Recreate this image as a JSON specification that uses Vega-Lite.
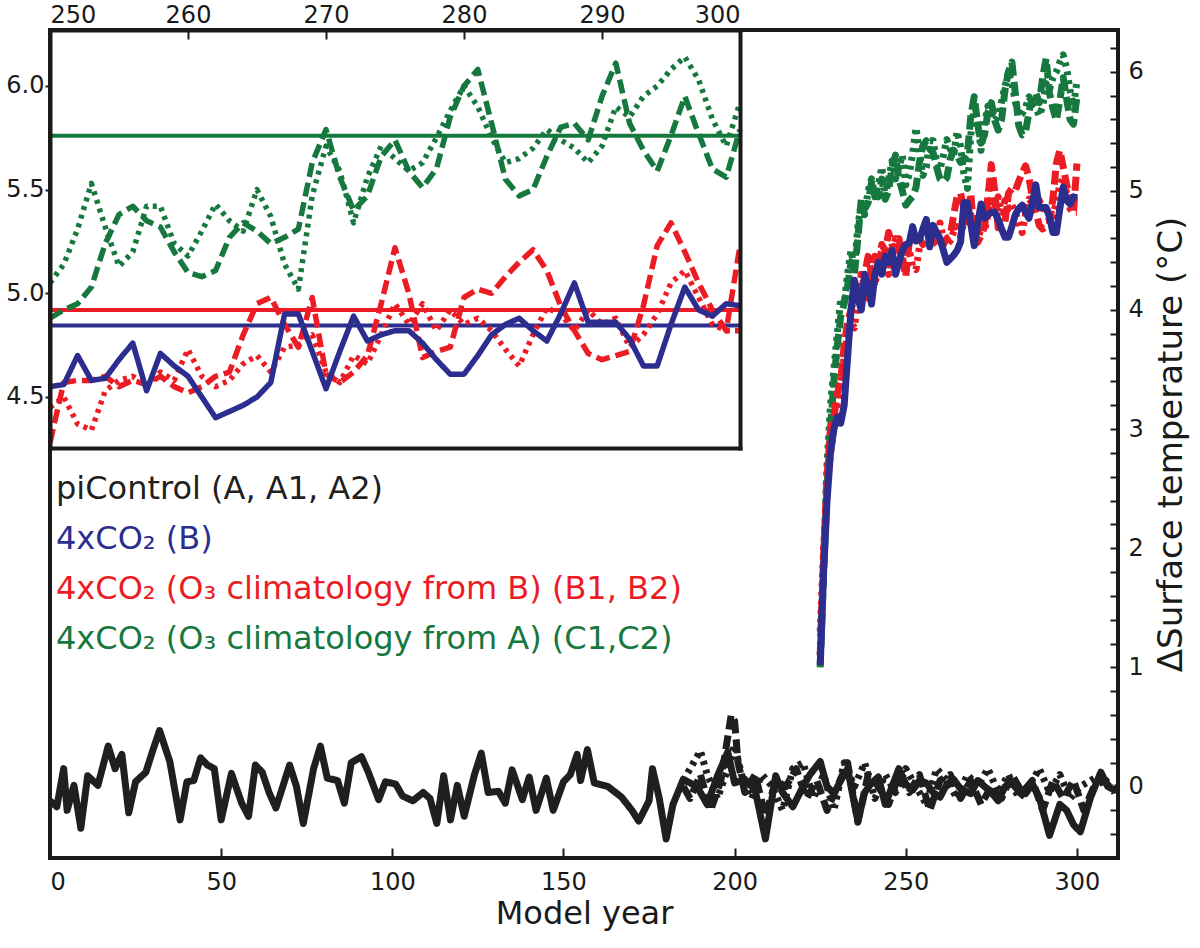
{
  "$schema": "https://vega.github.io/schema/vega-lite/v6.json",
  "width": 1068,
  "height": 828,
  "autosize": {"type": "none"},
  "padding": {"left": 50, "top": 30, "right": 82, "bottom": 90},
  "background": "white",
  "config": {
    "font": "DejaVu Sans",
    "view": {"stroke": "#1a1a1a", "strokeWidth": 4},
    "axis": {"labelFont": "DejaVu Sans", "titleFont": "DejaVu Sans", "labelColor": "#1a1a1a", "titleColor": "#1a1a1a", "tickColor": "#1a1a1a", "domainColor": "#1a1a1a", "grid": false, "titleFontWeight": "normal", "domain": false}
  },
  "datasets": {
    "runs": [
      {"run": "A", "exp": "piControl (A, A1, A2)"},
      {"run": "A1", "exp": "piControl (A, A1, A2)"},
      {"run": "A2", "exp": "piControl (A, A1, A2)"},
      {"run": "B", "exp": "4xCO₂ (B)"},
      {"run": "B1", "exp": "4xCO₂ (O₃ climatology from B) (B1, B2)"},
      {"run": "B2", "exp": "4xCO₂ (O₃ climatology from B) (B1, B2)"},
      {"run": "C1", "exp": "4xCO₂ (O₃ climatology from A) (C1,C2)"},
      {"run": "C2", "exp": "4xCO₂ (O₃ climatology from A) (C1,C2)"}
    ],
    "means": [
      {"exp": "4xCO₂ (O₃ climatology from A) (C1,C2)", "t": 5.76, "start": 250, "end": 300},
      {"exp": "4xCO₂ (O₃ climatology from B) (B1, B2)", "t": 4.92, "start": 250, "end": 300},
      {"exp": "4xCO₂ (B)", "t": 4.845, "start": 250, "end": 300}
    ],
    "series": [
      {"run":"A","year":0,"t":-0.12},{"run":"A","year":2,"t":-0.17},{"run":"A","year":4,"t":0.15},{"run":"A","year":5,"t":-0.2},{"run":"A","year":7,"t":0.01},{"run":"A","year":9,"t":-0.35},{"run":"A","year":11,"t":0.09},{"run":"A","year":14,"t":0.01},{"run":"A","year":17,"t":0.34},{"run":"A","year":19,"t":0.15},{"run":"A","year":21,"t":0.27},{"run":"A","year":23,"t":-0.22},{"run":"A","year":25,"t":0.04},{"run":"A","year":28,"t":0.12},{"run":"A","year":30,"t":0.3},{"run":"A","year":32,"t":0.47},{"run":"A","year":35,"t":0.21},{"run":"A","year":38,"t":-0.28},{"run":"A","year":40,"t":0.04},{"run":"A","year":42,"t":0.05},{"run":"A","year":44,"t":0.24},{"run":"A","year":46,"t":0.18},{"run":"A","year":48,"t":0.15},{"run":"A","year":50,"t":-0.28},{"run":"A","year":53,"t":0.11},{"run":"A","year":56,"t":-0.14},{"run":"A","year":58,"t":-0.25},{"run":"A","year":60,"t":0.18},{"run":"A","year":62,"t":0.12},{"run":"A","year":64,"t":-0.05},{"run":"A","year":66,"t":-0.18},{"run":"A","year":68,"t":0.0},{"run":"A","year":70,"t":0.18},{"run":"A","year":72,"t":0.0},{"run":"A","year":74,"t":-0.31},{"run":"A","year":77,"t":0.15},{"run":"A","year":79,"t":0.34},{"run":"A","year":81,"t":0.07},{"run":"A","year":84,"t":0.05},{"run":"A","year":86,"t":-0.14},{"run":"A","year":88,"t":0.2},{"run":"A","year":91,"t":0.25},{"run":"A","year":93,"t":0.12},{"run":"A","year":96,"t":-0.11},{"run":"A","year":98,"t":0.04},{"run":"A","year":101,"t":0.02},{"run":"A","year":103,"t":-0.08},{"run":"A","year":106,"t":-0.12},{"run":"A","year":109,"t":-0.05},{"run":"A","year":111,"t":-0.1},{"run":"A","year":113,"t":-0.31},{"run":"A","year":115,"t":0.09},{"run":"A","year":117,"t":-0.28},{"run":"A","year":119,"t":0.01},{"run":"A","year":121,"t":-0.25},{"run":"A","year":124,"t":0.1},{"run":"A","year":126,"t":0.28},{"run":"A","year":128,"t":-0.05},{"run":"A","year":131,"t":-0.04},{"run":"A","year":133,"t":-0.14},{"run":"A","year":135,"t":0.14},{"run":"A","year":138,"t":-0.11},{"run":"A","year":140,"t":0.08},{"run":"A","year":142,"t":-0.2},{"run":"A","year":145,"t":0.07},{"run":"A","year":147,"t":-0.2},{"run":"A","year":150,"t":0.04},{"run":"A","year":152,"t":0.1},{"run":"A","year":154,"t":0.27},{"run":"A","year":155,"t":0.05},{"run":"A","year":157,"t":0.31},{"run":"A","year":159,"t":0.03},{"run":"A","year":163,"t":0.0},{"run":"A","year":167,"t":-0.09},{"run":"A","year":170,"t":-0.2},{"run":"A","year":172,"t":-0.29},{"run":"A","year":175,"t":-0.12},{"run":"A","year":176,"t":0.15},{"run":"A","year":178,"t":-0.1},{"run":"A","year":180,"t":-0.44},{"run":"A","year":182,"t":-0.15},{"run":"A","year":185,"t":0.06},{"run":"A","year":189,"t":0.0},{"run":"A","year":192,"t":-0.15},{"run":"A","year":195,"t":0.09},{"run":"A","year":198,"t":0.29},{"run":"A","year":200,"t":0.03},{"run":"A","year":203,"t":0.06},{"run":"A","year":206,"t":-0.03},{"run":"A","year":209,"t":-0.44},{"run":"A","year":212,"t":0.09},{"run":"A","year":214,"t":-0.05},{"run":"A","year":217,"t":-0.17},{"run":"A","year":220,"t":0.0},{"run":"A","year":222,"t":0.1},{"run":"A","year":225,"t":0.21},{"run":"A","year":227,"t":0.0},{"run":"A","year":229,"t":-0.06},{"run":"A","year":231,"t":0.05},{"run":"A","year":233,"t":0.15},{"run":"A","year":236,"t":-0.29},{"run":"A","year":238,"t":-0.05},{"run":"A","year":240,"t":0.03},{"run":"A","year":242,"t":0.08},{"run":"A","year":244,"t":-0.15},{"run":"A","year":246,"t":0.0},{"run":"A","year":248,"t":0.15},{"run":"A","year":250,"t":0.02},{"run":"A","year":252,"t":-0.03},{"run":"A","year":254,"t":0.05},{"run":"A","year":256,"t":0.03},{"run":"A","year":258,"t":-0.05},{"run":"A","year":260,"t":-0.09},{"run":"A","year":262,"t":0.02},{"run":"A","year":264,"t":0.06},{"run":"A","year":266,"t":-0.02},{"run":"A","year":269,"t":-0.06},{"run":"A","year":271,"t":0.05},{"run":"A","year":273,"t":0.0},{"run":"A","year":275,"t":-0.05},{"run":"A","year":277,"t":-0.12},{"run":"A","year":279,"t":0.0},{"run":"A","year":281,"t":0.03},{"run":"A","year":283,"t":-0.04},{"run":"A","year":285,"t":-0.06},{"run":"A","year":287,"t":0.02},{"run":"A","year":289,"t":-0.09},{"run":"A","year":292,"t":-0.41},{"run":"A","year":295,"t":-0.15},{"run":"A","year":297,"t":-0.2},{"run":"A","year":299,"t":-0.32},{"run":"A","year":301,"t":-0.38},{"run":"A","year":304,"t":-0.09},{"run":"A","year":307,"t":0.12},{"run":"A","year":309,"t":0.0},{"run":"A","year":311,"t":-0.03},{"run":"A","year":312,"t":0.0},
      {"run":"A1","year":185,"t":0.05},{"run":"A1","year":188,"t":0.2},{"run":"A1","year":190,"t":0.3},{"run":"A1","year":192,"t":0.1},{"run":"A1","year":195,"t":-0.1},{"run":"A1","year":198,"t":0.15},{"run":"A1","year":200,"t":0.35},{"run":"A1","year":202,"t":0.1},{"run":"A1","year":205,"t":-0.1},{"run":"A1","year":208,"t":0.1},{"run":"A1","year":211,"t":0.0},{"run":"A1","year":214,"t":-0.2},{"run":"A1","year":217,"t":0.15},{"run":"A1","year":220,"t":0.2},{"run":"A1","year":223,"t":-0.1},{"run":"A1","year":226,"t":0.1},{"run":"A1","year":229,"t":-0.2},{"run":"A1","year":232,"t":0.2},{"run":"A1","year":235,"t":0.0},{"run":"A1","year":238,"t":0.2},{"run":"A1","year":241,"t":-0.1},{"run":"A1","year":244,"t":0.1},{"run":"A1","year":247,"t":-0.05},{"run":"A1","year":250,"t":0.15},{"run":"A1","year":253,"t":0.0},{"run":"A1","year":256,"t":-0.15},{"run":"A1","year":259,"t":0.15},{"run":"A1","year":262,"t":0.05},{"run":"A1","year":265,"t":-0.1},{"run":"A1","year":268,"t":0.1},{"run":"A1","year":271,"t":0.0},{"run":"A1","year":274,"t":0.15},{"run":"A1","year":277,"t":-0.05},{"run":"A1","year":280,"t":0.1},{"run":"A1","year":283,"t":-0.1},{"run":"A1","year":286,"t":0.0},{"run":"A1","year":289,"t":0.15},{"run":"A1","year":292,"t":-0.05},{"run":"A1","year":295,"t":0.1},{"run":"A1","year":298,"t":-0.1},{"run":"A1","year":301,"t":0.0},{"run":"A1","year":304,"t":0.05},{"run":"A1","year":307,"t":0.1},{"run":"A1","year":310,"t":0.0},
      {"run":"A2","year":185,"t":0.0},{"run":"A2","year":187,"t":-0.1},{"run":"A2","year":190,"t":0.1},{"run":"A2","year":193,"t":-0.2},{"run":"A2","year":196,"t":0.05},{"run":"A2","year":199,"t":0.6},{"run":"A2","year":200,"t":0.55},{"run":"A2","year":201,"t":0.2},{"run":"A2","year":203,"t":-0.05},{"run":"A2","year":206,"t":0.1},{"run":"A2","year":209,"t":-0.25},{"run":"A2","year":212,"t":0.05},{"run":"A2","year":215,"t":0.0},{"run":"A2","year":218,"t":0.15},{"run":"A2","year":221,"t":-0.1},{"run":"A2","year":224,"t":0.05},{"run":"A2","year":227,"t":-0.2},{"run":"A2","year":230,"t":0.0},{"run":"A2","year":233,"t":0.2},{"run":"A2","year":236,"t":-0.3},{"run":"A2","year":239,"t":0.1},{"run":"A2","year":242,"t":0.0},{"run":"A2","year":245,"t":-0.15},{"run":"A2","year":248,"t":0.1},{"run":"A2","year":251,"t":-0.05},{"run":"A2","year":254,"t":0.1},{"run":"A2","year":257,"t":-0.2},{"run":"A2","year":260,"t":0.05},{"run":"A2","year":263,"t":0.1},{"run":"A2","year":266,"t":-0.1},{"run":"A2","year":269,"t":0.05},{"run":"A2","year":272,"t":-0.15},{"run":"A2","year":275,"t":0.0},{"run":"A2","year":278,"t":-0.1},{"run":"A2","year":281,"t":0.1},{"run":"A2","year":284,"t":-0.05},{"run":"A2","year":287,"t":0.05},{"run":"A2","year":290,"t":-0.2},{"run":"A2","year":293,"t":0.05},{"run":"A2","year":296,"t":-0.1},{"run":"A2","year":299,"t":0.05},{"run":"A2","year":302,"t":-0.2},{"run":"A2","year":305,"t":0.0},{"run":"A2","year":308,"t":0.05},{"run":"A2","year":311,"t":-0.05},
      {"run":"B","year":225,"t":1.02},{"run":"B","year":226,"t":1.8},{"run":"B","year":227,"t":2.4},{"run":"B","year":228,"t":2.8},{"run":"B","year":229,"t":3.0},{"run":"B","year":230,"t":3.1},{"run":"B","year":231,"t":3.05},{"run":"B","year":232,"t":3.2},{"run":"B","year":233,"t":3.6},{"run":"B","year":234,"t":4.0},{"run":"B","year":235,"t":4.25},{"run":"B","year":236,"t":4.1},{"run":"B","year":237,"t":4.0},{"run":"B","year":238,"t":4.3},{"run":"B","year":239,"t":4.2},{"run":"B","year":240,"t":4.05},{"run":"B","year":241,"t":4.3},{"run":"B","year":242,"t":4.4},{"run":"B","year":243,"t":4.3},{"run":"B","year":244,"t":4.45},{"run":"B","year":245,"t":4.4},{"run":"B","year":246,"t":4.5},{"run":"B","year":247,"t":4.3},{"run":"B","year":248,"t":4.4},{"run":"B","year":249,"t":4.5},{"run":"B","year":250,"t":4.55},{"run":"B","year":251,"t":4.56},{"run":"B","year":252,"t":4.7},{"run":"B","year":253,"t":4.58},{"run":"B","year":254,"t":4.59},{"run":"B","year":255,"t":4.68},{"run":"B","year":256,"t":4.76},{"run":"B","year":257,"t":4.53},{"run":"B","year":258,"t":4.71},{"run":"B","year":259,"t":4.65},{"run":"B","year":260,"t":4.6},{"run":"B","year":261,"t":4.5},{"run":"B","year":262,"t":4.4},{"run":"B","year":263,"t":4.43},{"run":"B","year":264,"t":4.46},{"run":"B","year":265,"t":4.5},{"run":"B","year":266,"t":4.57},{"run":"B","year":267,"t":4.9},{"run":"B","year":268,"t":4.9},{"run":"B","year":269,"t":4.72},{"run":"B","year":270,"t":4.54},{"run":"B","year":271,"t":4.72},{"run":"B","year":272,"t":4.89},{"run":"B","year":273,"t":4.77},{"run":"B","year":274,"t":4.8},{"run":"B","year":275,"t":4.82},{"run":"B","year":276,"t":4.82},{"run":"B","year":277,"t":4.76},{"run":"B","year":278,"t":4.68},{"run":"B","year":279,"t":4.61},{"run":"B","year":280,"t":4.61},{"run":"B","year":281,"t":4.7},{"run":"B","year":282,"t":4.8},{"run":"B","year":283,"t":4.85},{"run":"B","year":284,"t":4.88},{"run":"B","year":285,"t":4.82},{"run":"B","year":286,"t":4.77},{"run":"B","year":287,"t":4.9},{"run":"B","year":288,"t":5.05},{"run":"B","year":289,"t":4.86},{"run":"B","year":290,"t":4.86},{"run":"B","year":291,"t":4.86},{"run":"B","year":292,"t":4.78},{"run":"B","year":293,"t":4.65},{"run":"B","year":294,"t":4.65},{"run":"B","year":295,"t":4.85},{"run":"B","year":296,"t":5.03},{"run":"B","year":297,"t":4.92},{"run":"B","year":298,"t":4.89},{"run":"B","year":299,"t":4.95},{"run":"B","year":300,"t":4.94},
      {"run":"B1","year":225,"t":1.3},{"run":"B1","year":226,"t":2.0},{"run":"B1","year":227,"t":2.5},{"run":"B1","year":228,"t":2.8},{"run":"B1","year":229,"t":3.0},{"run":"B1","year":230,"t":3.2},{"run":"B1","year":231,"t":3.4},{"run":"B1","year":232,"t":3.6},{"run":"B1","year":233,"t":3.8},{"run":"B1","year":234,"t":3.9},{"run":"B1","year":235,"t":3.85},{"run":"B1","year":236,"t":4.1},{"run":"B1","year":237,"t":4.3},{"run":"B1","year":238,"t":4.2},{"run":"B1","year":239,"t":4.1},{"run":"B1","year":240,"t":4.35},{"run":"B1","year":241,"t":4.2},{"run":"B1","year":242,"t":4.4},{"run":"B1","year":243,"t":4.5},{"run":"B1","year":244,"t":4.45},{"run":"B1","year":245,"t":4.3},{"run":"B1","year":246,"t":4.5},{"run":"B1","year":247,"t":4.6},{"run":"B1","year":248,"t":4.55},{"run":"B1","year":249,"t":4.4},{"run":"B1","year":250,"t":4.45},{"run":"B1","year":251,"t":4.5},{"run":"B1","year":252,"t":4.37},{"run":"B1","year":253,"t":4.34},{"run":"B1","year":254,"t":4.53},{"run":"B1","year":255,"t":4.58},{"run":"B1","year":256,"t":4.6},{"run":"B1","year":257,"t":4.55},{"run":"B1","year":258,"t":4.62},{"run":"B1","year":259,"t":4.58},{"run":"B1","year":260,"t":4.73},{"run":"B1","year":261,"t":4.6},{"run":"B1","year":262,"t":4.55},{"run":"B1","year":263,"t":4.58},{"run":"B1","year":264,"t":4.66},{"run":"B1","year":265,"t":4.7},{"run":"B1","year":266,"t":4.62},{"run":"B1","year":267,"t":4.74},{"run":"B1","year":268,"t":4.75},{"run":"B1","year":269,"t":4.8},{"run":"B1","year":270,"t":4.62},{"run":"B1","year":271,"t":4.57},{"run":"B1","year":272,"t":4.7},{"run":"B1","year":273,"t":4.66},{"run":"B1","year":274,"t":4.8},{"run":"B1","year":275,"t":4.95},{"run":"B1","year":276,"t":4.85},{"run":"B1","year":277,"t":4.95},{"run":"B1","year":278,"t":4.82},{"run":"B1","year":279,"t":4.92},{"run":"B1","year":280,"t":4.85},{"run":"B1","year":281,"t":4.88},{"run":"B1","year":282,"t":4.82},{"run":"B1","year":283,"t":4.73},{"run":"B1","year":284,"t":4.65},{"run":"B1","year":285,"t":4.8},{"run":"B1","year":286,"t":4.93},{"run":"B1","year":287,"t":4.9},{"run":"B1","year":288,"t":4.82},{"run":"B1","year":289,"t":4.92},{"run":"B1","year":290,"t":4.85},{"run":"B1","year":291,"t":4.88},{"run":"B1","year":292,"t":4.74},{"run":"B1","year":293,"t":4.8},{"run":"B1","year":294,"t":4.9},{"run":"B1","year":295,"t":5.05},{"run":"B1","year":296,"t":5.11},{"run":"B1","year":297,"t":4.98},{"run":"B1","year":298,"t":4.85},{"run":"B1","year":299,"t":4.82},{"run":"B1","year":300,"t":4.82},
      {"run":"B2","year":225,"t":1.1},{"run":"B2","year":226,"t":1.9},{"run":"B2","year":227,"t":2.6},{"run":"B2","year":228,"t":3.0},{"run":"B2","year":229,"t":3.1},{"run":"B2","year":230,"t":3.3},{"run":"B2","year":231,"t":3.4},{"run":"B2","year":232,"t":3.7},{"run":"B2","year":233,"t":3.9},{"run":"B2","year":234,"t":4.0},{"run":"B2","year":235,"t":4.1},{"run":"B2","year":236,"t":4.2},{"run":"B2","year":237,"t":4.0},{"run":"B2","year":238,"t":4.3},{"run":"B2","year":239,"t":4.45},{"run":"B2","year":240,"t":4.3},{"run":"B2","year":241,"t":4.45},{"run":"B2","year":242,"t":4.35},{"run":"B2","year":243,"t":4.55},{"run":"B2","year":244,"t":4.5},{"run":"B2","year":245,"t":4.65},{"run":"B2","year":246,"t":4.55},{"run":"B2","year":247,"t":4.5},{"run":"B2","year":248,"t":4.6},{"run":"B2","year":249,"t":4.45},{"run":"B2","year":250,"t":4.28},{"run":"B2","year":251,"t":4.57},{"run":"B2","year":252,"t":4.58},{"run":"B2","year":253,"t":4.58},{"run":"B2","year":254,"t":4.6},{"run":"B2","year":255,"t":4.55},{"run":"B2","year":256,"t":4.58},{"run":"B2","year":257,"t":4.56},{"run":"B2","year":258,"t":4.6},{"run":"B2","year":259,"t":4.55},{"run":"B2","year":260,"t":4.52},{"run":"B2","year":261,"t":4.55},{"run":"B2","year":262,"t":4.6},{"run":"B2","year":263,"t":4.62},{"run":"B2","year":264,"t":4.8},{"run":"B2","year":265,"t":4.95},{"run":"B2","year":266,"t":4.98},{"run":"B2","year":267,"t":4.85},{"run":"B2","year":268,"t":4.74},{"run":"B2","year":269,"t":4.98},{"run":"B2","year":270,"t":4.61},{"run":"B2","year":271,"t":4.57},{"run":"B2","year":272,"t":4.62},{"run":"B2","year":273,"t":4.7},{"run":"B2","year":274,"t":4.95},{"run":"B2","year":275,"t":5.22},{"run":"B2","year":276,"t":5.0},{"run":"B2","year":277,"t":4.69},{"run":"B2","year":278,"t":4.72},{"run":"B2","year":279,"t":4.74},{"run":"B2","year":280,"t":4.98},{"run":"B2","year":281,"t":5.02},{"run":"B2","year":282,"t":5.0},{"run":"B2","year":283,"t":5.08},{"run":"B2","year":284,"t":5.15},{"run":"B2","year":285,"t":5.21},{"run":"B2","year":286,"t":5.11},{"run":"B2","year":287,"t":4.94},{"run":"B2","year":288,"t":4.82},{"run":"B2","year":289,"t":4.71},{"run":"B2","year":290,"t":4.68},{"run":"B2","year":291,"t":4.7},{"run":"B2","year":292,"t":4.72},{"run":"B2","year":293,"t":4.94},{"run":"B2","year":294,"t":5.23},{"run":"B2","year":295,"t":5.34},{"run":"B2","year":296,"t":5.2},{"run":"B2","year":297,"t":5.05},{"run":"B2","year":298,"t":4.92},{"run":"B2","year":299,"t":4.82},{"run":"B2","year":300,"t":5.23},
      {"run":"C1","year":225,"t":1.1},{"run":"C1","year":226,"t":1.9},{"run":"C1","year":227,"t":2.7},{"run":"C1","year":228,"t":3.2},{"run":"C1","year":229,"t":3.5},{"run":"C1","year":230,"t":3.8},{"run":"C1","year":231,"t":4.1},{"run":"C1","year":232,"t":4.05},{"run":"C1","year":233,"t":4.3},{"run":"C1","year":234,"t":4.5},{"run":"C1","year":235,"t":4.35},{"run":"C1","year":236,"t":4.7},{"run":"C1","year":237,"t":4.9},{"run":"C1","year":238,"t":4.8},{"run":"C1","year":239,"t":5.0},{"run":"C1","year":240,"t":5.1},{"run":"C1","year":241,"t":4.95},{"run":"C1","year":242,"t":5.05},{"run":"C1","year":243,"t":5.2},{"run":"C1","year":244,"t":4.95},{"run":"C1","year":245,"t":5.1},{"run":"C1","year":246,"t":5.25},{"run":"C1","year":247,"t":5.1},{"run":"C1","year":248,"t":5.2},{"run":"C1","year":249,"t":5.3},{"run":"C1","year":250,"t":5.05},{"run":"C1","year":251,"t":5.14},{"run":"C1","year":252,"t":5.31},{"run":"C1","year":253,"t":5.53},{"run":"C1","year":254,"t":5.32},{"run":"C1","year":255,"t":5.13},{"run":"C1","year":256,"t":5.2},{"run":"C1","year":257,"t":5.42},{"run":"C1","year":258,"t":5.42},{"run":"C1","year":259,"t":5.24},{"run":"C1","year":260,"t":5.18},{"run":"C1","year":261,"t":5.3},{"run":"C1","year":262,"t":5.43},{"run":"C1","year":263,"t":5.35},{"run":"C1","year":264,"t":5.3},{"run":"C1","year":265,"t":5.5},{"run":"C1","year":266,"t":5.37},{"run":"C1","year":267,"t":5.14},{"run":"C1","year":268,"t":5.02},{"run":"C1","year":269,"t":5.47},{"run":"C1","year":270,"t":5.71},{"run":"C1","year":271,"t":5.59},{"run":"C1","year":272,"t":5.34},{"run":"C1","year":273,"t":5.56},{"run":"C1","year":274,"t":5.71},{"run":"C1","year":275,"t":5.65},{"run":"C1","year":276,"t":5.59},{"run":"C1","year":277,"t":5.63},{"run":"C1","year":278,"t":5.75},{"run":"C1","year":279,"t":5.88},{"run":"C1","year":280,"t":6.0},{"run":"C1","year":281,"t":5.9},{"run":"C1","year":282,"t":5.75},{"run":"C1","year":283,"t":5.63},{"run":"C1","year":284,"t":5.65},{"run":"C1","year":285,"t":5.7},{"run":"C1","year":286,"t":5.79},{"run":"C1","year":287,"t":5.74},{"run":"C1","year":288,"t":5.7},{"run":"C1","year":289,"t":5.63},{"run":"C1","year":290,"t":5.71},{"run":"C1","year":291,"t":5.9},{"run":"C1","year":292,"t":5.85},{"run":"C1","year":293,"t":5.95},{"run":"C1","year":294,"t":6.0},{"run":"C1","year":295,"t":6.08},{"run":"C1","year":296,"t":6.14},{"run":"C1","year":297,"t":6.03},{"run":"C1","year":298,"t":5.84},{"run":"C1","year":299,"t":5.71},{"run":"C1","year":300,"t":5.92},
      {"run":"C2","year":225,"t":1.0},{"run":"C2","year":226,"t":1.8},{"run":"C2","year":227,"t":2.5},{"run":"C2","year":228,"t":3.0},{"run":"C2","year":229,"t":3.4},{"run":"C2","year":230,"t":3.7},{"run":"C2","year":231,"t":3.95},{"run":"C2","year":232,"t":4.05},{"run":"C2","year":233,"t":4.2},{"run":"C2","year":234,"t":4.4},{"run":"C2","year":235,"t":4.3},{"run":"C2","year":236,"t":4.6},{"run":"C2","year":237,"t":4.93},{"run":"C2","year":238,"t":4.85},{"run":"C2","year":239,"t":4.9},{"run":"C2","year":240,"t":5.07},{"run":"C2","year":241,"t":5.0},{"run":"C2","year":242,"t":4.95},{"run":"C2","year":243,"t":5.1},{"run":"C2","year":244,"t":4.93},{"run":"C2","year":245,"t":5.0},{"run":"C2","year":246,"t":5.2},{"run":"C2","year":247,"t":5.3},{"run":"C2","year":248,"t":5.1},{"run":"C2","year":249,"t":5.0},{"run":"C2","year":250,"t":4.88},{"run":"C2","year":251,"t":4.92},{"run":"C2","year":252,"t":4.95},{"run":"C2","year":253,"t":5.03},{"run":"C2","year":254,"t":5.24},{"run":"C2","year":255,"t":5.38},{"run":"C2","year":256,"t":5.42},{"run":"C2","year":257,"t":5.35},{"run":"C2","year":258,"t":5.32},{"run":"C2","year":259,"t":5.2},{"run":"C2","year":260,"t":5.1},{"run":"C2","year":261,"t":5.08},{"run":"C2","year":262,"t":5.11},{"run":"C2","year":263,"t":5.27},{"run":"C2","year":264,"t":5.34},{"run":"C2","year":265,"t":5.3},{"run":"C2","year":266,"t":5.24},{"run":"C2","year":267,"t":5.27},{"run":"C2","year":268,"t":5.31},{"run":"C2","year":269,"t":5.63},{"run":"C2","year":270,"t":5.79},{"run":"C2","year":271,"t":5.56},{"run":"C2","year":272,"t":5.4},{"run":"C2","year":273,"t":5.47},{"run":"C2","year":274,"t":5.66},{"run":"C2","year":275,"t":5.74},{"run":"C2","year":276,"t":5.59},{"run":"C2","year":277,"t":5.51},{"run":"C2","year":278,"t":5.6},{"run":"C2","year":279,"t":5.85},{"run":"C2","year":280,"t":6.0},{"run":"C2","year":281,"t":6.08},{"run":"C2","year":282,"t":5.82},{"run":"C2","year":283,"t":5.55},{"run":"C2","year":284,"t":5.47},{"run":"C2","year":285,"t":5.5},{"run":"C2","year":286,"t":5.66},{"run":"C2","year":287,"t":5.8},{"run":"C2","year":288,"t":5.82},{"run":"C2","year":289,"t":5.74},{"run":"C2","year":290,"t":5.95},{"run":"C2","year":291,"t":6.11},{"run":"C2","year":292,"t":5.82},{"run":"C2","year":293,"t":5.69},{"run":"C2","year":294,"t":5.59},{"run":"C2","year":295,"t":5.76},{"run":"C2","year":296,"t":5.95},{"run":"C2","year":297,"t":5.77},{"run":"C2","year":298,"t":5.6},{"run":"C2","year":299,"t":5.56},{"run":"C2","year":300,"t":5.79}
    ]
  },
  "layer": [
    {
      "data": {"name": "series"},
      "transform": [{"lookup": "run", "from": {"data": {"name": "runs"}, "key": "run", "fields": ["exp"]}}],
      "encoding": {
        "x": {"field": "year", "type": "quantitative",
          "scale": {"domain": [0, 312], "nice": false, "zero": false},
          "axis": {"orient": "bottom", "values": [0, 50, 100, 150, 200, 250, 300], "title": "Model year", "tickSize": -10, "tickWidth": 2, "labelPadding": 22, "labelFontSize": 24, "titleFontSize": 32, "titlePadding": 4, "zindex": 1}},
        "y": {"field": "t", "type": "quantitative",
          "scale": {"domain": [-0.6, 6.35], "nice": false, "zero": false},
          "axis": {"orient": "right", "values": [-0.4,-0.2,0,0.2,0.4,0.6,0.8,1,1.2,1.4,1.6,1.8,2,2.2,2.4,2.6,2.8,3,3.2,3.4,3.6,3.8,4,4.2,4.4,4.6,4.8,5,5.2,5.4,5.6,5.8,6,6.2],
            "labelExpr": "abs(datum.value - round(datum.value)) < 0.001 ? format(datum.value, 'd') : ''",
            "labelOverlap": false, "labelFontSize": 24, "labelPadding": 18,
            "tickSize": -8, "tickWidth": 2,
            "title": "ΔSurface temperature (°C)", "titleFontSize": 34, "titleAngle": 270, "titleBaseline": "top", "titlePadding": 11, "zindex": 1}},
        "color": {"field": "exp", "type": "nominal",
          "scale": {"domain": ["piControl (A, A1, A2)", "4xCO₂ (B)", "4xCO₂ (O₃ climatology from B) (B1, B2)", "4xCO₂ (O₃ climatology from A) (C1,C2)"], "range": ["#1f1f1f", "#2b2e8e", "#ec1c24", "#16783e"]},
          "legend": {"orient": "none", "legendX": -26, "legendY": 443, "title": null, "symbolSize": 0, "symbolOpacity": 0, "symbolStrokeWidth": 0, "labelOffset": 0, "labelFontSize": 32, "labelFont": "DejaVu Sans", "labelLimit": 2000, "rowPadding": 18, "padding": 0,
            "encode": {"labels": {"update": {"fill": {"scale": "color", "field": "value"}}}}}},
        "strokeDash": {"field": "run", "type": "nominal",
          "scale": {"domain": ["A", "A1", "A2", "B", "B1", "B2", "C1", "C2"], "range": [[1, 0], [4, 5], [14, 6], [1, 0], [4, 5], [14, 6], [4, 5], [14, 6]]},
          "legend": null}
      },
      "layer": [
        {"transform": [{"filter": {"field": "run", "oneOf": ["A", "A1", "A2"]}}], "mark": {"type": "line", "strokeWidth": 7, "strokeCap": "butt", "strokeJoin": "round", "clip": true}},
        {"transform": [{"filter": {"field": "run", "oneOf": ["C1", "C2"]}}], "mark": {"type": "line", "strokeWidth": 7, "strokeCap": "butt", "strokeJoin": "round", "clip": true}},
        {"transform": [{"filter": {"field": "run", "oneOf": ["B1", "B2"]}}], "mark": {"type": "line", "strokeWidth": 7, "strokeCap": "butt", "strokeJoin": "round", "clip": true}},
        {"transform": [{"filter": {"field": "run", "oneOf": ["B"]}}], "mark": {"type": "line", "strokeWidth": 7, "strokeCap": "butt", "strokeJoin": "round", "clip": true}}
      ]
    },
    {
      "data": {"name": "means"},
      "mark": {"type": "rule", "strokeWidth": 4},
      "encoding": {
        "x": {"field": "start", "type": "quantitative",
          "scale": {"domain": [250, 300], "range": [0, 690], "nice": false, "zero": false},
          "axis": {"orient": "bottom", "offset": -410, "domain": true, "domainWidth": 4, "domainCap": "square", "ticks": false, "labels": false, "title": null, "zindex": 1}},
        "x2": {"field": "end"},
        "y": {"field": "t", "type": "quantitative",
          "scale": {"domain": [4.254, 6.27], "range": [418, 0], "nice": false, "zero": false},
          "axis": {"orient": "right", "offset": -378, "domain": true, "domainWidth": 4, "domainCap": "square", "ticks": false, "labels": false, "title": null, "zindex": 1}},
        "color": {"field": "exp", "type": "nominal"}
      }
    },
    {
      "data": {"name": "series"},
      "transform": [
        {"filter": {"field": "run", "oneOf": ["B", "B1", "B2", "C1", "C2"]}},
        {"filter": "datum.year >= 250"},
        {"lookup": "run", "from": {"data": {"name": "runs"}, "key": "run", "fields": ["exp"]}}
      ],
      "encoding": {
        "x": {"field": "year", "type": "quantitative",
          "scale": {"domain": [250, 300], "range": [0, 690], "nice": false, "zero": false},
          "axis": {"orient": "top", "values": [250, 260, 270, 280, 290, 300], "title": null, "domain": true, "domainWidth": 4, "domainCap": "square", "tickSize": -9, "tickWidth": 2, "labelPadding": 12, "labelFontSize": 24, "zindex": 1}},
        "y": {"field": "t", "type": "quantitative",
          "scale": {"domain": [4.254, 6.27], "range": [418, 0], "nice": false, "zero": false},
          "axis": {"orient": "left", "values": [4.5, 5.0, 5.5, 6.0], "format": ".1f", "title": null, "domain": true, "domainWidth": 4, "domainCap": "square", "tickSize": 5, "tickWidth": 2, "labelPadding": 1, "labelFontSize": 24, "zindex": 1}},
        "color": {"field": "exp", "type": "nominal"},
        "strokeDash": {"field": "run", "type": "nominal", "legend": null}
      },
      "layer": [
        {"transform": [{"filter": {"field": "run", "oneOf": ["C1", "C2"]}}], "mark": {"type": "line", "strokeWidth": 5.5, "strokeCap": "butt", "strokeJoin": "round", "clip": true}},
        {"transform": [{"filter": {"field": "run", "oneOf": ["B1", "B2"]}}], "mark": {"type": "line", "strokeWidth": 5.5, "strokeCap": "butt", "strokeJoin": "round", "clip": true}},
        {"transform": [{"filter": {"field": "run", "oneOf": ["B"]}}], "mark": {"type": "line", "strokeWidth": 5.5, "strokeCap": "butt", "strokeJoin": "round", "clip": true}}
      ]
    }
  ],
  "resolve": {"scale": {"x": "independent", "y": "independent"}}
}
